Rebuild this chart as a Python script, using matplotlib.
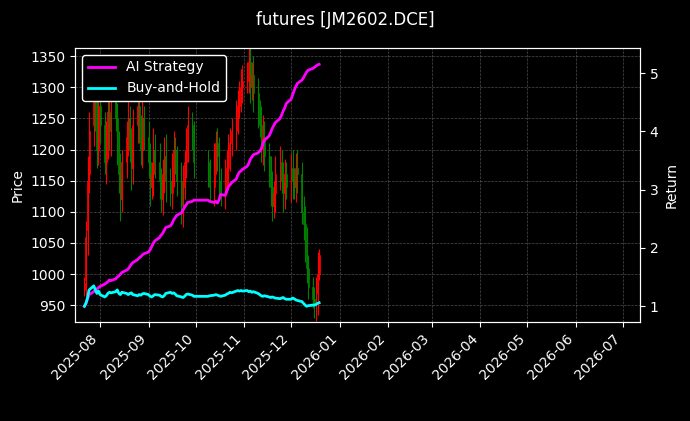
import matplotlib
matplotlib.use("Agg")
import matplotlib.pyplot as plt
import matplotlib.dates as mdates
import numpy as np
import pandas as pd

# trading days (China holiday Oct 1-8 removed)
dates = [d for d in pd.bdate_range("2025-07-22", "2025-12-19")
         if not (pd.Timestamp("2025-10-01") <= d <= pd.Timestamp("2025-10-08"))]

closes = [985, 1060, 1150, 1230, 1290, 1250, 1200, 1270,
          1240, 1180, 1210, 1260, 1230, 1280, 1250, 1200, 1160, 1120, 1180, 1220, 1250, 1200, 1170, 1240, 1270, 1230, 1200, 1250, 1220,
          1180, 1140, 1160, 1200, 1180, 1150, 1120, 1160, 1190, 1150, 1130, 1170, 1200, 1180, 1150, 1110, 1140, 1180, 1210, 1240, 1220, 1180,
          1160, 1140, 1180, 1210, 1190, 1150, 1130, 1160, 1170, 1190, 1210, 1230, 1250, 1270, 1290, 1300, 1310,
          1320, 1340, 1300, 1320, 1290, 1260, 1240, 1210, 1220, 1190, 1160, 1140, 1110, 1130, 1160, 1180, 1150, 1130, 1160, 1140,
          1170, 1150, 1140, 1170, 1160, 1100, 1080, 1050, 1010, 980, 960, 950, 970, 1000, 1030]
opens = [975, 990, 1070, 1160, 1240, 1290, 1250, 1200,
         1270, 1240, 1180, 1210, 1260, 1230, 1280, 1250, 1200, 1160, 1120, 1180, 1220, 1250, 1200, 1170, 1240, 1270, 1230, 1200, 1250,
         1220, 1180, 1140, 1160, 1200, 1180, 1150, 1120, 1160, 1190, 1150, 1130, 1170, 1200, 1180, 1150, 1110, 1140, 1180, 1210, 1240, 1220,
         1180, 1160, 1140, 1180, 1210, 1190, 1150, 1130, 1160, 1170, 1190, 1210, 1230, 1250, 1270, 1290, 1300,
         1310, 1320, 1340, 1300, 1320, 1290, 1260, 1240, 1210, 1220, 1190, 1160, 1140, 1110, 1130, 1160, 1180, 1150, 1130, 1160,
         1140, 1170, 1150, 1140, 1170, 1160, 1100, 1080, 1050, 1010, 980, 960, 950, 970, 1000]
wicks = [10, 25, 40, 30, 35, 20, 30, 25,
         30, 20, 35, 25, 30, 40, 20, 25, 30, 35, 20, 25, 30, 20, 35, 25, 30, 20, 25, 30, 20,
         25, 30, 20, 35, 25, 30, 20, 25, 30, 35, 20, 25, 30, 20, 25, 30, 35, 20, 25, 30, 20, 25,
         20, 25, 30, 20, 25, 30, 20, 25, 30, 35, 25, 20, 30, 25, 20, 30, 25,
         20, 30, 25, 20, 30, 25, 20, 30, 35, 25, 20, 30, 25, 20, 30, 25, 20, 30, 25, 20,
         25, 30, 20, 25, 30, 20, 25, 30, 25, 20, 15, 20, 25, 35, 10]

ai_strategy = [1.00, 1.05, 1.12, 1.20, 1.25, 1.28, 1.30, 1.32,
               1.34, 1.38, 1.40, 1.42, 1.45, 1.44, 1.47, 1.50, 1.52, 1.55, 1.58, 1.62, 1.64, 1.68, 1.72, 1.75, 1.80, 1.83, 1.85, 1.88, 1.90,
               1.93, 1.97, 2.02, 2.08, 2.12, 2.18, 2.22, 2.25, 2.30, 2.35, 2.38, 2.42, 2.48, 2.52, 2.56, 2.60, 2.65, 2.70, 2.74, 2.78, 2.80, 2.82,
               2.82, 2.80, 2.78, 2.80, 2.77, 2.82, 2.92, 2.90, 2.98, 3.05, 3.08, 3.12, 3.18, 3.25, 3.30, 3.32, 3.35,
               3.40, 3.45, 3.52, 3.56, 3.60, 3.63, 3.66, 3.70, 3.78, 3.85, 3.92, 3.98, 4.05, 4.10, 4.15, 4.22, 4.28, 4.35, 4.40, 4.48,
               4.55, 4.62, 4.70, 4.76, 4.82, 4.88, 4.92, 4.97, 5.02, 5.05, 5.08, 5.10, 5.12, 5.14, 5.15]
buy_hold = [1.00, 1.05, 1.15, 1.28, 1.35, 1.28, 1.22, 1.26,
            1.20, 1.16, 1.18, 1.22, 1.24, 1.23, 1.25, 1.28, 1.22, 1.20, 1.24, 1.22, 1.20, 1.22, 1.23, 1.20, 1.18, 1.20, 1.19, 1.21, 1.22,
            1.20, 1.17, 1.16, 1.18, 1.20, 1.19, 1.17, 1.16, 1.18, 1.22, 1.24, 1.22, 1.23, 1.21, 1.18, 1.16, 1.15, 1.17, 1.20, 1.21, 1.19, 1.17,
            1.17, 1.18, 1.19, 1.20, 1.19, 1.18, 1.17, 1.19, 1.21, 1.22, 1.24, 1.23, 1.26, 1.27, 1.26, 1.27, 1.26,
            1.27, 1.25, 1.26, 1.24, 1.25, 1.22, 1.20, 1.18, 1.17, 1.18, 1.16, 1.15, 1.16, 1.15, 1.14, 1.13, 1.14, 1.15, 1.13, 1.12,
            1.12, 1.14, 1.13, 1.11, 1.10, 1.08, 1.05, 1.02, 1.00, 1.01, 1.02, 1.02, 1.03, 1.05, 1.06]

plt.style.use("dark_background")
fig = plt.figure(figsize=(6.9, 4.21), dpi=100)
ax = fig.add_axes([75 / 690, 1 - 322 / 421, 565 / 690, 274 / 421])
ax2 = ax.twinx()

xd = mdates.date2num(dates)
o = np.array(opens)
c = np.array(closes)
w = np.array(wicks)
up = c >= o
cols = np.where(up, "red", "green")
hi = np.maximum(o, c) + w
lo = np.minimum(o, c) - w
ax.vlines(xd, lo, hi, colors=cols, linewidth=0.8)
ax.bar(xd, np.abs(c - o), bottom=np.minimum(o, c), width=0.6, color=cols, edgecolor=cols, linewidth=0.5)

ax2.plot(dates, ai_strategy, color="magenta", linewidth=2, label="AI Strategy")
ax2.plot(dates, buy_hold, color="cyan", linewidth=2, label="Buy-and-Hold")

ax.set_ylim(923, 1363)
ax2.set_ylim(0.73, 5.43)
ax.set_xlim(mdates.date2num(pd.Timestamp("2025-07-16")), mdates.date2num(pd.Timestamp("2026-07-12")))
ax.set_ylabel("Price")
ax2.set_ylabel("Return")
ax.xaxis.set_major_locator(mdates.MonthLocator())
ax.xaxis.set_major_formatter(mdates.DateFormatter("%Y-%m"))
plt.setp(ax.get_xticklabels(), rotation=45, ha="right")
ax.grid(True, color="gray", linestyle="--", linewidth=0.5, alpha=0.6)
ax.set_facecolor("black")
ax2.legend(loc="upper left", edgecolor="white", facecolor="black", framealpha=1)
fig.suptitle("futures [JM2602.DCE]", y=0.975, fontsize=12)
fig.savefig("out.png", dpi=100, facecolor="black")
